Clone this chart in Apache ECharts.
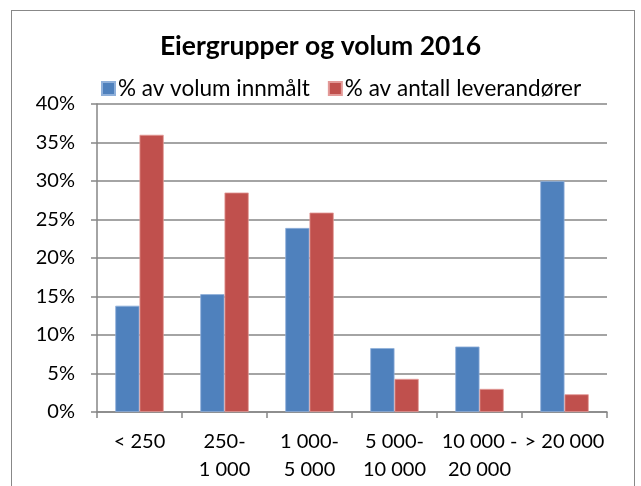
<!DOCTYPE html>
<html>
<head>
<meta charset="utf-8">
<script src="https://cdn.jsdelivr.net/npm/echarts@6/dist/echarts.min.js"></script>
<style>
  html, body { margin: 0; padding: 0; background: #fff; }
  #frame { position: absolute; left: 11px; top: 10px; width: 624px; height: 490px; border: 1px solid #888; box-sizing: border-box; }
  #chart { position: absolute; left: 0; top: 0; width: 641px; height: 486px; }
</style>
</head>
<body>
<div id="frame"></div>
<div id="chart"></div>
<script>
    // --- Data ---
    const categories = ['< 250', '250-\n1 000', '1 000-\n5 000', '5 000-\n10 000', '10 000 -\n20 000', '> 20 000'];
    const volumShare = [13.8, 15.3, 23.9, 8.3, 8.5, 30.0];
    const leverandorShare = [36.0, 28.5, 25.9, 4.3, 3.0, 2.3];
    const seriesNames = ['% av volum innmålt', '% av antall leverandører'];

    const FONT = 'Lato, "Open Sans", sans-serif';
    const axisGray = '#868686';

    const chart = echarts.init(document.getElementById('chart'), null, { renderer: 'canvas' });

    chart.setOption({
        animation: false,
        title: {
            text: 'Eiergrupper og volum 2016',
            left: 'center', top: 28,
            textStyle: { fontFamily: FONT, fontSize: 26.5, fontWeight: 'bold', color: '#000' },
        },
        legend: {
            top: 72, left: 96,
            itemWidth: 13, itemHeight: 13, itemGap: 18,
            icon: 'rect',
            textStyle: { fontFamily: FONT, fontSize: 22.5, color: '#000', padding: [0, 0, 0, -2] },
            data: seriesNames,
        },
        grid: { left: 97, right: 34, top: 104, bottom: 74 },
        xAxis: {
            type: 'category',
            data: categories,
            axisLine: { lineStyle: { color: axisGray, width: 1.5 } },
            axisTick: { show: true, length: 6, lineStyle: { color: axisGray, width: 1.5 } },
            axisLabel: { interval: 0, fontFamily: FONT, fontSize: 20, color: '#000', lineHeight: 28, margin: 16 },
        },
        yAxis: {
            type: 'value', min: 0, max: 40, interval: 5,
            axisLine: { show: true, lineStyle: { color: axisGray, width: 1.5 } },
            axisTick: { show: true, length: 6, lineStyle: { color: axisGray, width: 1.5 } },
            splitLine: { lineStyle: { color: axisGray, width: 1.5 } },
            axisLabel: { fontFamily: FONT, fontSize: 20, color: '#000', margin: 22, formatter: '{value}%' },
        },
        series: [
            {
                name: seriesNames[0], type: 'bar', data: volumShare,
                barGap: '0%', barCategoryGap: '43%',
                itemStyle: { color: '#4F81BD', borderColor: '#8FB0DA', borderWidth: 0.8 },
            },
            {
                name: seriesNames[1], type: 'bar', data: leverandorShare,
                itemStyle: { color: '#C0504D', borderColor: '#E39A98', borderWidth: 0.8 },
            },
        ],
    });
</script>
</body>
</html>
